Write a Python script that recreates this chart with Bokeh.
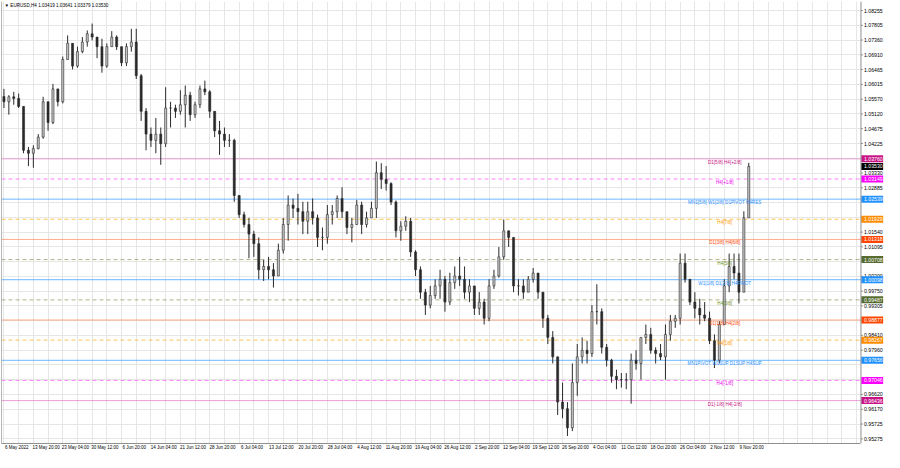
from bokeh.plotting import figure
from bokeh.models import Range1d, FixedTicker, Label, Span, ColumnDataSource
from bokeh.embed import file_html
from bokeh.resources import INLINE
from bokeh.core.properties import value

# ---------------- data ----------------
title_text = "\u25BC EURUSD,H4 1.03419 1.03641 1.03379 1.03530"
last_price = 1.03530

first_open = 1.0565
high = [1.0588, 1.0569, 1.0579, 1.0574, 1.0535, 1.0412, 1.0417, 1.0451, 1.0564, 1.0549,
        1.0603, 1.0588, 1.0686, 1.0750, 1.0726, 1.0716, 1.0745, 1.0765, 1.0786, 1.0745,
        1.0740, 1.0726, 1.0763, 1.0750, 1.0716, 1.0726, 1.0770, 1.0770, 1.0633, 1.0530,
        1.0471, 1.0500, 1.0471, 1.0593, 1.0549, 1.0540, 1.0584, 1.0598, 1.0579, 1.0549,
        1.0598, 1.0613, 1.0584, 1.0520, 1.0491, 1.0471, 1.0451, 1.0437, 1.0265, 1.0216,
        1.0197, 1.0158, 1.0138, 1.0070, 1.0079, 1.0060, 1.0119, 1.0197, 1.0265, 1.0256,
        1.0270, 1.0246, 1.0246, 1.0256, 1.0207, 1.0168, 1.0236, 1.0236, 1.0265, 1.0290,
        1.0216, 1.0197, 1.0251, 1.0246, 1.0216, 1.0246, 1.0368, 1.0363, 1.0354, 1.0305,
        1.0250, 1.0187, 1.0202, 1.0197, 1.0099, 1.0050, 0.9982, 0.9991, 1.0011, 1.0040,
        1.0021, 1.0031, 1.0050, 1.0079, 1.0050, 1.0011, 0.9991, 0.9972, 0.9952, 1.0011,
        1.0040, 1.0109, 1.0192, 1.0158, 1.0138, 1.0011, 1.0011, 1.0021, 1.0045, 1.0030,
        0.9972, 0.9903, 0.9854, 0.9776, 0.9698, 0.9639, 0.9756, 0.9815, 0.9835, 0.9825,
        0.9933, 0.9996, 0.9923, 0.9815, 0.9770, 0.9737, 0.9727, 0.9727, 0.9786, 0.9796,
        0.9835, 0.9874, 0.9864, 0.9805, 0.9815, 0.9874, 0.9903, 0.9903, 1.0089, 1.0089,
        1.0011, 0.9972, 0.9952, 0.9942, 0.9913, 0.9844, 0.9884, 1.0011, 1.0089, 1.0089,
        1.0089, 1.0217, 1.0364]
low = [1.0530, 1.0510, 1.0540, 1.0530, 1.0393, 1.0354, 1.0349, 1.0405, 1.0437, 1.0461,
       1.0481, 1.0535, 1.0544, 1.0677, 1.0647, 1.0652, 1.0696, 1.0716, 1.0735, 1.0681,
       1.0637, 1.0652, 1.0716, 1.0706, 1.0657, 1.0657, 1.0701, 1.0618, 1.0491, 1.0402,
       1.0412, 1.0393, 1.0358, 1.0412, 1.0471, 1.0500, 1.0510, 1.0471, 1.0491, 1.0500,
       1.0530, 1.0569, 1.0500, 1.0442, 1.0388, 1.0412, 1.0412, 1.0246, 1.0197, 1.0168,
       1.0075, 1.0079, 1.0011, 1.0006, 1.0011, 0.9986, 1.0021, 1.0089, 1.0128, 1.0197,
       1.0177, 1.0148, 1.0148, 1.0177, 1.0109, 1.0099, 1.0119, 1.0177, 1.0197, 1.0197,
       1.0148, 1.0123, 1.0177, 1.0148, 1.0168, 1.0197, 1.0197, 1.0285, 1.0280, 1.0236,
       1.0138, 1.0128, 1.0158, 1.0079, 1.0021, 0.9952, 0.9903, 0.9923, 0.9952, 0.9952,
       0.9913, 0.9933, 0.9982, 0.9991, 0.9952, 0.9942, 0.9903, 0.9903, 0.9874, 0.9884,
       0.9982, 1.0016, 1.0070, 1.0109, 0.9972, 0.9962, 0.9952, 0.9972, 1.0001, 0.9952,
       0.9864, 0.9815, 0.9756, 0.9600, 0.9590, 0.9536, 0.9551, 0.9658, 0.9756, 0.9756,
       0.9776, 0.9874, 0.9786, 0.9747, 0.9698, 0.9678, 0.9683, 0.9678, 0.9634, 0.9737,
       0.9707, 0.9815, 0.9786, 0.9756, 0.9766, 0.9707, 0.9825, 0.9864, 0.9874, 1.0001,
       0.9933, 0.9893, 0.9874, 0.9884, 0.9815, 0.9742, 0.9756, 0.9874, 0.9972, 1.0011,
       0.9938, 0.9972, 1.0197]
close = [1.0549, 1.0564, 1.0559, 1.0535, 1.0402, 1.0393, 1.0407, 1.0442, 1.0549, 1.0486,
         1.0588, 1.0549, 1.0677, 1.0726, 1.0657, 1.0701, 1.0730, 1.0755, 1.0745, 1.0716,
         1.0657, 1.0716, 1.0745, 1.0716, 1.0667, 1.0716, 1.0730, 1.0628, 1.0520, 1.0451,
         1.0432, 1.0451, 1.0422, 1.0530, 1.0530, 1.0520, 1.0540, 1.0569, 1.0510, 1.0540,
         1.0588, 1.0579, 1.0520, 1.0461, 1.0451, 1.0432, 1.0432, 1.0265, 1.0207, 1.0177,
         1.0148, 1.0119, 1.0040, 1.0050, 1.0040, 1.0021, 1.0099, 1.0177, 1.0236, 1.0226,
         1.0216, 1.0187, 1.0216, 1.0197, 1.0138, 1.0138, 1.0207, 1.0216, 1.0256, 1.0216,
         1.0168, 1.0177, 1.0236, 1.0177, 1.0197, 1.0226, 1.0334, 1.0314, 1.0301, 1.0245,
         1.0158, 1.0172, 1.0187, 1.0094, 1.0040, 0.9972, 0.9933, 0.9962, 0.9991, 1.0011,
         0.9942, 1.0001, 1.0021, 1.0011, 0.9972, 0.9991, 0.9923, 0.9942, 0.9893, 0.9991,
         1.0021, 1.0079, 1.0158, 1.0138, 0.9991, 0.9991, 0.9972, 1.0011, 1.0030, 0.9972,
         0.9893, 0.9835, 0.9776, 0.9639, 0.9619, 0.9561, 0.9698, 0.9776, 0.9796, 0.9786,
         0.9913, 0.9913, 0.9805, 0.9766, 0.9717, 0.9707, 0.9707, 0.9707, 0.9766, 0.9756,
         0.9835, 0.9844, 0.9796, 0.9786, 0.9776, 0.9844, 0.9884, 0.9893, 1.0060, 1.0011,
         0.9942, 0.9923, 0.9903, 0.9893, 0.9825, 0.9766, 0.9874, 0.9991, 1.0050, 1.0030,
         0.9972, 1.0197, 1.0353]

x_labels = ["6 May 2022", "13 May 20:00", "23 May 04:00", "30 May 12:00", "6 Jun 20:00",
            "14 Jun 04:00", "21 Jun 12:00", "28 Jun 20:00", "6 Jul 04:00", "13 Jul 12:00",
            "20 Jul 20:00", "28 Jul 04:00", "4 Aug 12:00", "11 Aug 20:00", "19 Aug 04:00",
            "26 Aug 12:00", "2 Sep 20:00", "12 Sep 04:00", "19 Sep 12:00", "26 Sep 20:00",
            "4 Oct 04:00", "11 Oct 12:00", "18 Oct 20:00", "26 Oct 04:00", "2 Nov 12:00",
            "9 Nov 20:00"]

price_ticks = [1.08255, 1.07805, 1.07360, 1.06910, 1.06465, 1.06015, 1.05570, 1.05120,
               1.04675, 1.04225, 1.03780, 1.03330, 1.02885, 1.02435, 1.01990, 1.01540,
               1.01095, 1.00645, 1.00200, 0.99750, 0.99305, 0.98855, 0.98410, 0.97960,
               0.97515, 0.97065, 0.96620, 0.96170, 0.95725, 0.95275]
hidden_ticks = [1.03780, 1.02435, 1.01990, 1.00645, 0.98855, 0.97515, 0.97065]

level_prices = [1.03760, 1.03149, 1.02539, 1.01929, 1.01318, 1.00708, 1.00098,
                0.99487, 0.98877, 0.98267, 0.97656, 0.97046, 0.96436]
level_names = ["D1[5/8] H4[+2/8]", "H4[+1/8]", "MN1[5/8] W1[2/8] D1PIVOT H4RES", "H4[7/8]",
               "D1[3/8] H4[6/8]", "H4[5/8]", "W1[1/8] D1[2/8] H4PIVOT", "H4[3/8]",
               "D1[1/8] H4[2/8]", "H4[1/8]", "MN1PIVOT W1SUP D1SUP H4SUP", "H4[-1/8]",
               "D1[-1/8] H4[-2/8]"]
level_kinds = ["d1", "h4m", "piv", "h4o", "d1o", "h4g", "piv", "h4g", "d1o", "h4o", "piv",
               "h4m", "d1"]

# ---------------- styles ----------------
STYLE = {
    "d1":  dict(line="#e070c0", dash="solid", text="#c71585", box="#c71585"),
    "h4m": dict(line="#ff40ff", dash="4 3",   text="#ee00ee", box="#ff00ff"),
    "piv": dict(line="#1e90ff", dash="solid", text="#1e90ff", box="#1e90ff"),
    "h4o": dict(line="#ffa500", dash="4 3",   text="#ff9900", box="#ff8c00"),
    "d1o": dict(line="#ff7f50", dash="solid", text="#ff4500", box="#ff4500"),
    "h4g": dict(line="#8b8b4b", dash="4 3",   text="#6b8e23", box="#556b2f"),
}
FONT = "Liberation Sans"

X0, X_AXIS, X1 = -0.5, 174.9, 179.5      # chart area | price scale column
Y0, Y1 = 0.95135, 1.08528
LABEL_SHIFT = 2.6                         # x labels start at their time mark

p = figure(width=884, height=452, x_range=Range1d(X0, X1), y_range=Range1d(Y0, Y1),
           y_axis_location=None, output_backend="svg", toolbar_location=None,
           min_border_left=1, min_border_top=1, min_border_right=1, min_border_bottom=1)
p.background_fill_color = "white"
p.border_fill_color = "white"
p.outline_line_color = None

# grids
p.xgrid.ticker = FixedTicker(ticks=list(range(0, 175, 3)))
p.ygrid.ticker = FixedTicker(ticks=price_ticks)
p.xgrid.grid_line_color = "#e6e6e6"
p.ygrid.grid_line_color = "#e6e6e6"

# x axis
xt = [6 * k + LABEL_SHIFT for k in range(len(x_labels))]
p.xaxis.ticker = FixedTicker(ticks=xt)
p.xaxis.major_label_overrides = {t: lab for t, lab in zip(xt, x_labels)}
p.xaxis.bounds = (X0, X_AXIS)
p.xaxis.major_label_text_font = FONT
p.xaxis.major_label_text_font_size = "4.5px"
p.xaxis.major_label_text_color = "#000000"
p.xaxis.major_label_standoff = 1
p.xaxis.major_tick_out = 0
p.xaxis.major_tick_in = 0
p.xaxis.minor_tick_line_color = None
p.xaxis.axis_line_color = "#909090"

# level lines (stop at the price scale)
for kind, st in STYLE.items():
    ys = [pr for pr, k in zip(level_prices, level_kinds) if k == kind]
    p.segment(x0=[X0] * len(ys), x1=[X_AXIS] * len(ys), y0=ys, y1=ys,
              line_color=st["line"], line_alpha=0.65, line_width=1, line_dash=st["dash"])

# candles
n = len(close)
xs = list(range(n))
opens = [first_open] + close[:-1]
src = ColumnDataSource(dict(x=xs, high=high, low=low,
                            top=[max(o, c) for o, c in zip(opens, close)],
                            bottom=[min(o, c) for o, c in zip(opens, close)],
                            fill=["#c8c8c8" if c >= o else "#2a2a2a" for o, c in zip(opens, close)]))
p.segment(x0="x", y0="high", x1="x", y1="low", source=src, line_color="#2a2a2a", line_width=1)
p.vbar(x="x", width=0.42, top="top", bottom="bottom", source=src,
       fill_color="fill", line_color="#2a2a2a", line_width=0.6)

# level texts in chart
lsrc = ColumnDataSource(dict(x=[147.1] * len(level_prices), y=level_prices, text=level_names,
                             color=[STYLE[k]["text"] for k in level_kinds]))
p.text(x="x", y="y", text="text", source=lsrc, text_color="color",
       text_font=value(FONT), text_font_size="4.6px", text_align="center",
       text_baseline="top", y_offset=1)

# ---- price scale column (right) ----
p.quad(left=[X_AXIS], right=[X1], bottom=[Y0], top=[Y1], fill_color="white",
       line_color=None)
vis_ticks = [t for t in price_ticks if t not in hidden_ticks]
p.segment(x0=[X_AXIS] * len(vis_ticks), x1=[X_AXIS + 0.4] * len(vis_ticks),
          y0=vis_ticks, y1=vis_ticks, line_color="#909090", line_width=1)
p.text(x=[X_AXIS] * len(vis_ticks), y=vis_ticks, text=[f"{t:.5f}" for t in vis_ticks],
       x_offset=3, text_align="left", text_baseline="middle", text_color="#000000",
       text_font=value(FONT), text_font_size="5.2px")

box_prices = level_prices + [last_price]
box_colors = [STYLE[k]["box"] for k in level_kinds] + ["#000000"]
p.rect(x=[(X_AXIS + X1) / 2] * len(box_prices), y=box_prices, width=X1 - X_AXIS - 0.1,
       height=7, height_units="screen", fill_color=box_colors, line_color=None)
p.text(x=[X_AXIS] * len(box_prices), y=box_prices, text=[f"{v:.5f}" for v in box_prices],
       x_offset=3, text_align="left", text_baseline="middle", text_color="white",
       text_font=value(FONT), text_font_size="5.2px")

p.add_layout(Span(location=X_AXIS, dimension="height", line_color="#909090", line_width=1))
p.add_layout(Span(location=X0, dimension="height", line_color="#707070", line_width=1))

# title
p.add_layout(Label(x=X0, y=Y1, x_offset=3, y_offset=-1, text=title_text, text_color="#000000",
                   text_font=FONT, text_font_size="4.6px", text_baseline="top",
                   text_align="left"))

open("out.html", "w").write(file_html(p, INLINE))
